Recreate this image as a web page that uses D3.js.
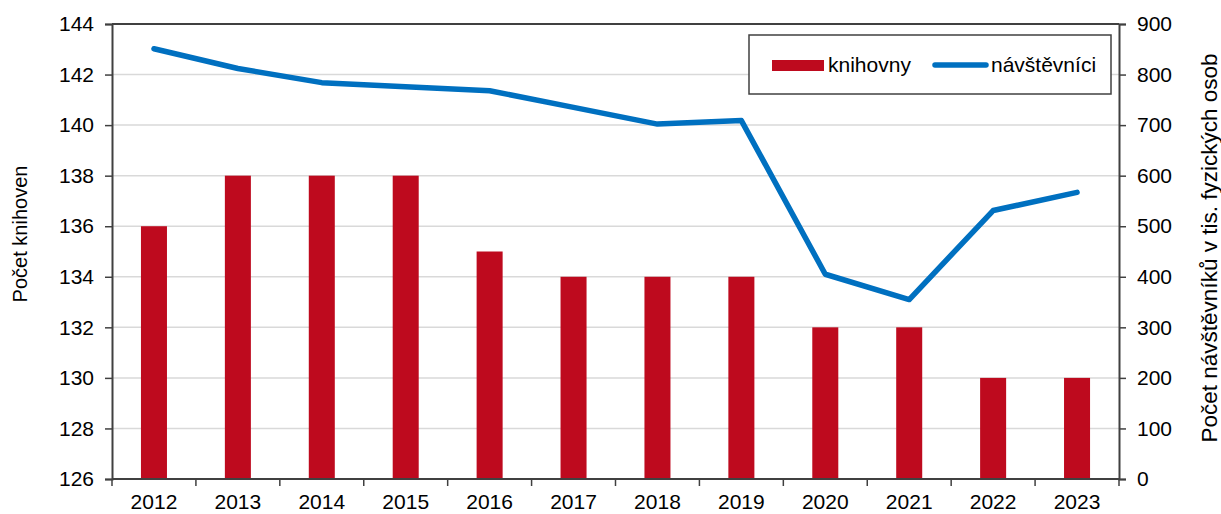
<!DOCTYPE html>
<html>
<head>
<meta charset="utf-8">
<script src="https://cdn.jsdelivr.net/npm/d3@7"></script>
<style>
  html, body { margin: 0; padding: 0; background: #fff; }
  svg text { font-family: "Liberation Sans", Arial, sans-serif; fill: #000; }
</style>
</head>
<body>
<svg id="chart" width="1221" height="514"></svg>
<script>
// Libraries in the region and their visitors (thousands of persons)
const years = ["2012","2013","2014","2015","2016","2017","2018","2019","2020","2021","2022","2023"];
const libraries = [136, 138, 138, 138, 135, 134, 134, 134, 132, 132, 130, 130];
const visitors = [851, 812, 784, 776, 768, 735, 702, 709, 405, 355, 531, 567];
const leftTicks = [126, 128, 130, 132, 134, 136, 138, 140, 142, 144];
const rightTicks = [0, 100, 200, 300, 400, 500, 600, 700, 800, 900];

const margin = { left: 112, right: 102, top: 24, bottom: 35 };
const W = 1221, H = 514;
const FS = 21;
const svg = d3.select("#chart");

const x = d3.scaleBand().domain(years).range([margin.left, W - margin.right]).paddingInner(0.69).paddingOuter(0.345);
const yL = d3.scaleLinear().domain([126, 144]).range([H - margin.bottom, margin.top]);
const yR = d3.scaleLinear().domain([0, 900]).range([H - margin.bottom, margin.top]);

// horizontal gridlines
svg.append("g").selectAll("line").data(leftTicks.slice(1, -1)).join("line")
  .attr("x1", margin.left).attr("x2", W - margin.right)
  .attr("y1", d => yL(d)).attr("y2", d => yL(d))
  .attr("stroke", "#d9d9d9").attr("stroke-width", 1.5);

// top border
svg.append("line")
  .attr("x1", margin.left).attr("x2", W - margin.right)
  .attr("y1", margin.top).attr("y2", margin.top)
  .attr("stroke", "#000").attr("stroke-width", 1.5);

// bars
svg.append("g").selectAll("rect").data(years).join("rect")
  .attr("x", d => x(d)).attr("width", x.bandwidth())
  .attr("y", (d, i) => yL(libraries[i]))
  .attr("height", (d, i) => yL(126) - yL(libraries[i]))
  .attr("fill", "#BE0A1E");

// visitors line
const line = d3.line()
  .x((d, i) => x(years[i]) + x.bandwidth() / 2)
  .y(d => yR(d));
svg.append("path").datum(visitors)
  .attr("d", line)
  .attr("fill", "none").attr("stroke", "#0070C0")
  .attr("stroke-width", 5.5).attr("stroke-linecap", "round").attr("stroke-linejoin", "round");

// axes
const axisColor = "#404040";
const gL = svg.append("g").attr("transform", `translate(${margin.left},0)`)
  .call(d3.axisLeft(yL).tickValues(leftTicks).tickSize(7).tickPadding(11));
const gR = svg.append("g").attr("transform", `translate(${W - margin.right},0)`)
  .call(d3.axisRight(yR).tickValues(rightTicks).tickSize(7).tickPadding(11));
const xb = d3.scaleLinear().domain([0, years.length]).range([margin.left, W - margin.right]);
const gX = svg.append("g").attr("transform", `translate(0,${H - margin.bottom})`);
gX.append("line").attr("x1", margin.left).attr("x2", W - margin.right)
  .attr("stroke", axisColor).attr("stroke-width", 2);
gX.selectAll("line.tick").data(d3.range(years.length + 1)).join("line").attr("class", "tick")
  .attr("x1", d => xb(d)).attr("x2", d => xb(d)).attr("y1", 0).attr("y2", 7)
  .attr("stroke", axisColor).attr("stroke-width", 1.5);
gX.selectAll("text").data(years).join("text")
  .attr("x", d => x(d) + x.bandwidth() / 2).attr("y", 30)
  .attr("text-anchor", "middle").attr("font-size", FS).text(d => d);

[gL, gR].forEach(g => {
  g.attr("font-size", FS);
  g.select(".domain").attr("stroke", axisColor).attr("stroke-width", 2);
  g.selectAll(".tick line").attr("stroke", axisColor).attr("stroke-width", 1.5);
  g.selectAll(".tick text").attr("font-size", FS).attr("fill", "#000")
    .style("font-family", '"Liberation Sans", Arial, sans-serif');
});

// axis titles
svg.append("text").attr("transform", `translate(27,234) rotate(-90)`)
  .attr("text-anchor", "middle").attr("font-size", 20).text("Počet knihoven");
svg.append("text").attr("transform", `translate(1217,248) rotate(-90)`)
  .attr("text-anchor", "middle").attr("font-size", 22.5).text("Počet návštěvníků v tis. fyzických osob");

// legend
const lg = svg.append("g");
lg.append("rect").attr("x", 749).attr("y", 35).attr("width", 362).attr("height", 59)
  .attr("fill", "#fff").attr("stroke", "#404040").attr("stroke-width", 1.5);
lg.append("rect").attr("x", 772).attr("y", 60).attr("width", 52).attr("height", 11).attr("fill", "#BE0A1E");
lg.append("text").attr("x", 828).attr("y", 72).attr("font-size", FS).text("knihovny");
lg.append("line").attr("x1", 935).attr("x2", 986).attr("y1", 65).attr("y2", 65)
  .attr("stroke", "#0070C0").attr("stroke-width", 5.5).attr("stroke-linecap", "round");
lg.append("text").attr("x", 991).attr("y", 72).attr("font-size", FS).text("návštěvníci");
</script>
</body>
</html>
